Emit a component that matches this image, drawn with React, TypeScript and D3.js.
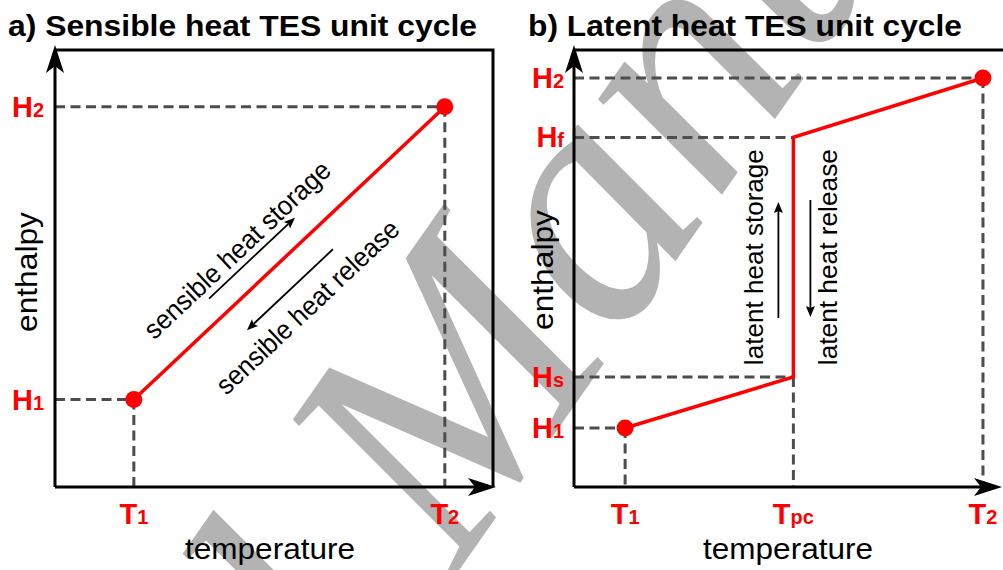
import React from "react";
import * as d3 from "d3";

const W = 1003;
const H = 570;

// ---------- data (schematic units 0..10) ----------
// Panel a: sensible heat TES unit cycle
const sensTemps = [1.8, 8.9]; // T1, T2
const sensTempSubs = ["1", "2"];
const sensEnth = [2.0, 8.7]; // H1, H2
const sensEnthSubs = ["1", "2"];

// Panel b: latent heat TES unit cycle
const latTemps = [1.2, 5.15, 9.6]; // T1, Tpc, T2
const latTempSubs = ["1", "pc", "2"];
const latEnth = [1.35, 2.52, 8.0, 9.36]; // H1, Hs, Hf, H2
const latEnthSubs = ["1", "s", "f", "2"];
// red cycle path (temperature index, enthalpy index)
const latPathIdx: [number, number][] = [
  [0, 0],
  [1, 1],
  [1, 2],
  [2, 3],
];
// dashed guide lines: [tempIdx, enthIdx]
const latGuides: [number, number][] = [
  [0, 0],
  [1, 1],
  [1, 2],
  [2, 3],
];

const titles = ["a) Sensible heat TES unit cycle", "b) Latent heat TES unit cycle"];

const RED = "#ff0000";
const DASH = "#4d4d4d";
const SANS = "'Liberation Sans', Arial, Helvetica, sans-serif";

function arrowHead(tx: number, ty: number, dx: number, dy: number, len: number, hw: number, notch: number) {
  const bx = tx - dx * len;
  const by = ty - dy * len;
  const px = -dy;
  const py = dx;
  const nx = tx - dx * (len - notch);
  const ny = ty - dy * (len - notch);
  return `M${tx},${ty}L${bx + px * hw},${by + py * hw}L${nx},${ny}L${bx - px * hw},${by - py * hw}Z`;
}

function Arrow({ x1, y1, x2, y2, w = 3, len = 28, hw = 9, notch = 7 }: any) {
  const L = Math.hypot(x2 - x1, y2 - y1);
  const dx = (x2 - x1) / L;
  const dy = (y2 - y1) / L;
  return (
    <g>
      <line x1={x1} y1={y1} x2={x2 - dx * (len - notch)} y2={y2 - dy * (len - notch)} stroke="#000" strokeWidth={w} />
      <path d={arrowHead(x2, y2, dx, dy, len, hw, notch)} fill="#000" />
    </g>
  );
}

function Lbl({ x, y, sub, main, anchor = "middle" }: any) {
  return (
    <text x={x} y={y} textAnchor={anchor} fill={RED} fontFamily={SANS} fontWeight="bold" fontSize={29}>
      {main}
      <tspan fontSize={20}>{sub}</tspan>
    </text>
  );
}

export default function App() {
  const ya = d3.scaleLinear().domain([0, 10]).range([487, 50]);
  const xa = d3.scaleLinear().domain([0, 10]).range([55, 493]);
  const xb = d3.scaleLinear().domain([0, 10]).range([574, 1000]);
  const yb = ya;

  const line = d3.line<[number, number]>().x((d) => d[0]).y((d) => d[1]);

  // panel a geometry
  const p0: [number, number] = [xa(sensTemps[0]), ya(sensEnth[0])];
  const p1: [number, number] = [xa(sensTemps[1]), ya(sensEnth[1])];
  const Lr = Math.hypot(p1[0] - p0[0], p1[1] - p0[1]);
  const u = [(p1[0] - p0[0]) / Lr, (p1[1] - p0[1]) / Lr];
  const n = [-u[1], u[0]];
  const ang = (Math.atan2(u[1], u[0]) * 180) / Math.PI;
  const at = (s: number, t: number) => [p0[0] + u[0] * s + n[0] * t, p0[1] + u[1] * s + n[1] * t];

  const stText = at(178, -29);
  const reText = at(190, 61);
  const stA1 = at(124, -22);
  const stA2 = at(242, -22);
  const reA1 = at(248, 27);
  const reA2 = at(130, 27);

  // panel b geometry
  const latPts: [number, number][] = latPathIdx.map(([ti, hi]) => [xb(latTemps[ti]), yb(latEnth[hi])]);
  const tpc = xb(latTemps[1]);
  const midY = (yb(latEnth[1]) + yb(latEnth[2])) / 2;

  const dashProps = { stroke: DASH, strokeWidth: 3, strokeDasharray: "10,5.5", fill: "none" };

  // watermark
  const wmX = 455;
  const wmY = 576;
  const wmAng = -55;
  const wmSize = 340;

  return (
    <svg width={W} height={H} style={{ position: "absolute", left: 0, top: 0 }} xmlns="http://www.w3.org/2000/svg">
      <rect x={0} y={0} width={W} height={H} fill="#fff" />
      {/* watermark */}
      <g transform={`translate(${wmX},${wmY}) rotate(${wmAng})`} fill="#b3b3b3" fontFamily="'Liberation Serif', 'Times New Roman', serif" fontStyle="italic" fontSize={wmSize}>
        <text x={-wmSize * 0.25} y={0} textAnchor="end">Accepted</text>
        <text x={0} y={0} textAnchor="start">Manuscript</text>
      </g>

      {/* titles */}
      <text x={8} y={36} fontFamily={SANS} fontWeight="bold" fontSize={30} textLength={469} lengthAdjust="spacingAndGlyphs">
        {titles[0]}
      </text>
      <text x={528} y={36} fontFamily={SANS} fontWeight="bold" fontSize={30} textLength={434} lengthAdjust="spacingAndGlyphs">
        {titles[1]}
      </text>

      {/* ---------- panel a ---------- */}
      <g>
        {sensTemps.map((t, i) => (
          <g key={i}>
            <line x1={xa(0)} y1={ya(sensEnth[i])} x2={xa(t)} y2={ya(sensEnth[i])} {...dashProps} />
            <line x1={xa(t)} y1={ya(sensEnth[i])} x2={xa(t)} y2={ya(0)} {...dashProps} />
          </g>
        ))}
        <path d={`M${xa(0)},${ya(10)}H${xa(10)}V${ya(0)}`} stroke="#000" strokeWidth={3} fill="none" />
        <Arrow x1={xa(0)} y1={ya(0)} x2={xa(0)} y2={45} />
        <Arrow x1={xa(0)} y1={ya(0)} x2={xa(10) + 3} y2={ya(0)} />
        <path d={line([p0, p1]) as string} stroke={RED} strokeWidth={3.5} fill="none" />
        <circle cx={p0[0]} cy={p0[1]} r={8.5} fill={RED} />
        <circle cx={p1[0]} cy={p1[1]} r={8.5} fill={RED} />
        <text transform={`translate(${stText[0]},${stText[1]}) rotate(${ang})`} textAnchor="middle" fontFamily={SANS} fontSize={27} textLength={245} lengthAdjust="spacingAndGlyphs">
          sensible heat storage
        </text>
        <text transform={`translate(${reText[0]},${reText[1]}) rotate(${ang})`} textAnchor="middle" fontFamily={SANS} fontSize={27} textLength={240} lengthAdjust="spacingAndGlyphs">
          sensible heat release
        </text>
        <Arrow x1={stA1[0]} y1={stA1[1]} x2={stA2[0]} y2={stA2[1]} w={1.8} len={11} hw={4.5} notch={2} />
        <Arrow x1={reA1[0]} y1={reA1[1]} x2={reA2[0]} y2={reA2[1]} w={1.8} len={11} hw={4.5} notch={2} />
        {sensEnth.map((h, i) => (
          <Lbl key={i} x={44} y={ya(h) + 10} main="H" sub={sensEnthSubs[i]} anchor="end" />
        ))}
        {sensTemps.map((t, i) => (
          <Lbl key={i} x={xa(t)} y={524} main="T" sub={sensTempSubs[i]} />
        ))}
        <text x={270} y={559} textAnchor="middle" fontFamily={SANS} fontSize={30} textLength={170} lengthAdjust="spacingAndGlyphs">
          temperature
        </text>
        <text transform={`translate(37,272) rotate(-90)`} textAnchor="middle" fontFamily={SANS} fontSize={29} textLength={120} lengthAdjust="spacingAndGlyphs">
          enthalpy
        </text>
      </g>

      {/* ---------- panel b ---------- */}
      <g>
        {latGuides.map(([ti, hi], i) => (
          <g key={i}>
            <line x1={xb(0)} y1={yb(latEnth[hi])} x2={xb(latTemps[ti])} y2={yb(latEnth[hi])} {...dashProps} />
            {i !== 2 && <line x1={xb(latTemps[ti])} y1={yb(latEnth[hi])} x2={xb(latTemps[ti])} y2={yb(0)} {...dashProps} />}
          </g>
        ))}
        <path d={`M${xb(0)},${yb(10)}H${W}`} stroke="#000" strokeWidth={3} fill="none" />
        <Arrow x1={xb(0)} y1={yb(0)} x2={xb(0)} y2={45} />
        <Arrow x1={xb(0)} y1={yb(0)} x2={W - 1} y2={yb(0)} />
        <path d={line(latPts) as string} stroke={RED} strokeWidth={3.5} fill="none" strokeLinejoin="miter" />
        <circle cx={latPts[0][0]} cy={latPts[0][1]} r={8.5} fill={RED} />
        <circle cx={latPts[3][0]} cy={latPts[3][1]} r={8.5} fill={RED} />
        <text transform={`translate(${tpc - 30},${midY}) rotate(-90)`} textAnchor="middle" fontFamily={SANS} fontSize={26} textLength={216} lengthAdjust="spacingAndGlyphs">
          latent heat storage
        </text>
        <text transform={`translate(${tpc + 44},${midY}) rotate(-90)`} textAnchor="middle" fontFamily={SANS} fontSize={26} textLength={216} lengthAdjust="spacingAndGlyphs">
          latent heat release
        </text>
        <Arrow x1={tpc - 15} y1={318} x2={tpc - 15} y2={202} w={1.8} len={11} hw={4.5} notch={2} />
        <Arrow x1={tpc + 17} y1={200} x2={tpc + 17} y2={317} w={1.8} len={11} hw={4.5} notch={2} />
        {latEnth.map((h, i) => (
          <Lbl key={i} x={564} y={yb(h) + 10} main="H" sub={latEnthSubs[i]} anchor="end" />
        ))}
        {latTemps.map((t, i) => (
          <Lbl key={i} x={xb(t)} y={524} main="T" sub={latTempSubs[i]} />
        ))}
        <text x={788} y={559} textAnchor="middle" fontFamily={SANS} fontSize={30} textLength={170} lengthAdjust="spacingAndGlyphs">
          temperature
        </text>
        <text transform={`translate(553,270) rotate(-90)`} textAnchor="middle" fontFamily={SANS} fontSize={29} textLength={120} lengthAdjust="spacingAndGlyphs">
          enthalpy
        </text>
      </g>
    </svg>
  );
}
